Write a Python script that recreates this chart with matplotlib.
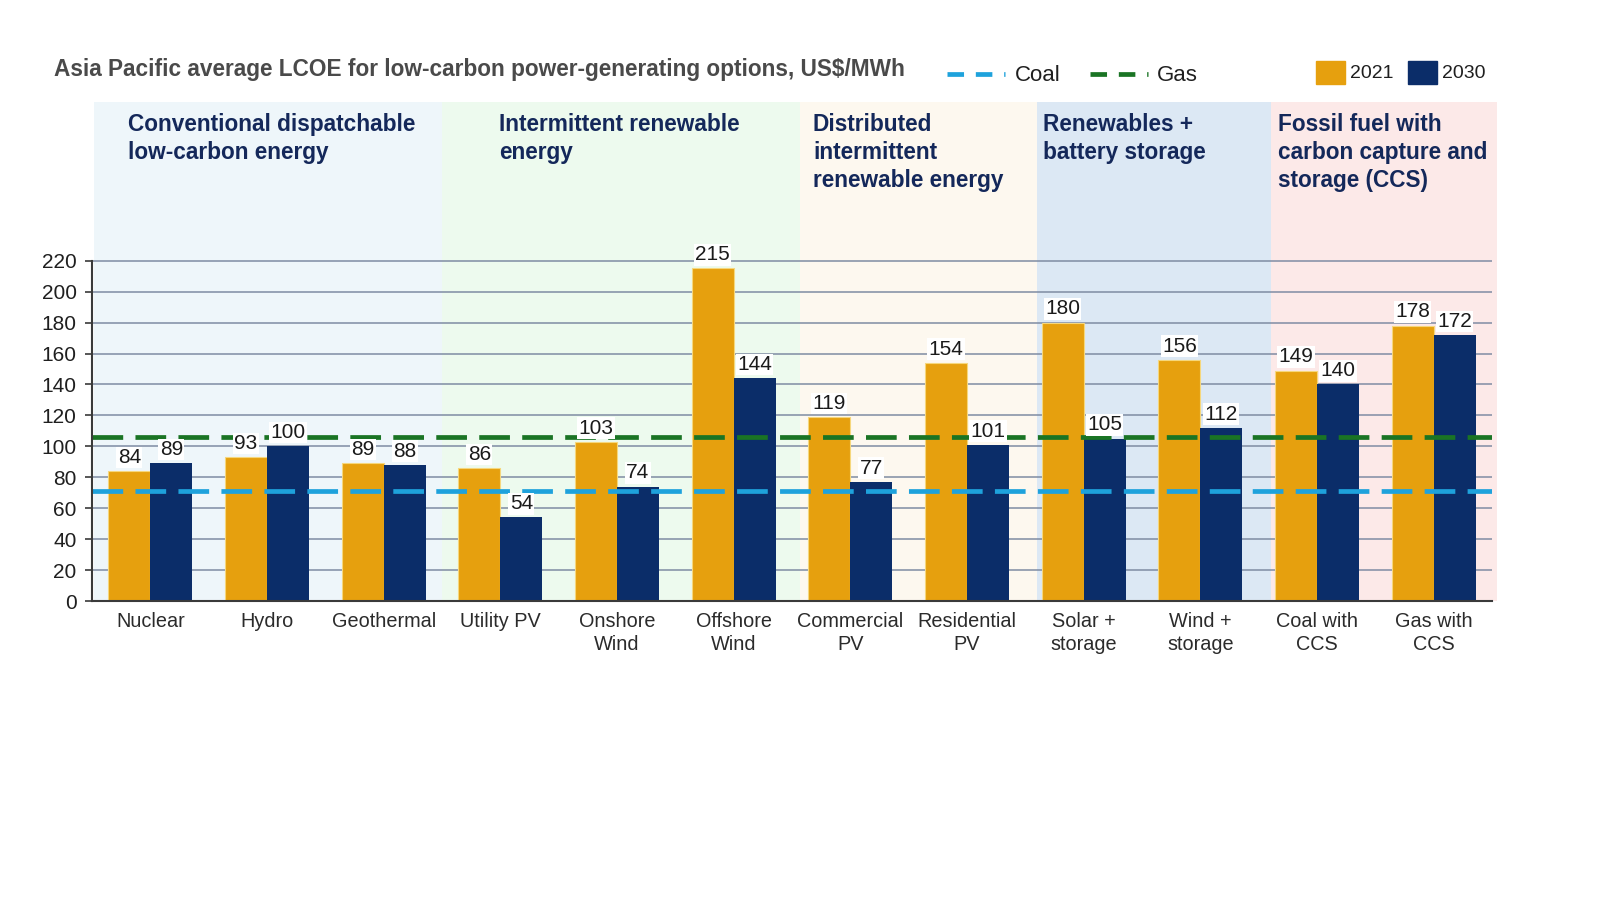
import matplotlib
matplotlib.use("Agg")
import matplotlib.pyplot as plt
from matplotlib.lines import Line2D
from matplotlib.patches import Rectangle
import numpy as np

plt.rcParams['font.family'] = ['Liberation Sans', 'DejaVu Sans']

# data
categories = ['Nuclear', 'Hydro', 'Geothermal', 'Utility PV', 'Onshore\nWind', 'Offshore\nWind',
              'Commercial\nPV', 'Residential\nPV', 'Solar +\nstorage', 'Wind +\nstorage',
              'Coal with\nCCS', 'Gas with\nCCS']
lcoe_2021 = [84, 93, 89, 86, 103, 215, 119, 154, 180, 156, 149, 178]
lcoe_2030 = [89, 100, 88, 54, 74, 144, 77, 101, 105, 112, 140, 172]
coal_lcoe = 71
gas_lcoe = 106
group_names = ['Conventional dispatchable\nlow-carbon energy',
               'Intermittent renewable\nenergy',
               'Distributed\nintermittent\nrenewable energy',
               'Renewables +\nbattery storage',
               'Fossil fuel with\ncarbon capture and\nstorage (CCS)']
group_sizes = [3, 3, 2, 2, 2]
y_ticks = [0, 20, 40, 60, 80, 100, 120, 140, 160, 180, 200, 220]

# styles
gold = '#E6A00E'
navy = '#0B2D69'
band_colors = ['#EEF6FA', '#EDFAEE', '#FDF8EF', '#DCE8F4', '#FCE9E8']
edge_shift = [0.02, 0.0, 0.07, 0.1, 0.11, 0.04]
label_x = [-0.19, 2.99, 5.68, 7.65, 9.67]
text_navy = '#14285A'

fig = plt.figure(figsize=(16, 9), dpi=100)
ax = fig.add_axes([0.0575, 0.3322, 0.875, 0.5545])

x = np.arange(len(categories))
w = 0.36

ax.set_xlim(-0.5, 11.5)
ax.set_ylim(0, 322.6)

# background bands
edges = np.concatenate([[0], np.cumsum(group_sizes)]) - 0.5 + np.array(edge_shift)
for i, name in enumerate(group_names):
    ax.axvspan(edges[i], edges[i + 1], ymin=0, ymax=1, color=band_colors[i],
               zorder=0, lw=0, clip_on=False)
    ax.text(label_x[i], 315.5, name, ha='left', va='top', fontsize=16.3, fontweight='bold',
            color=text_navy, linespacing=1.28, zorder=5)

# gridlines
for t in y_ticks[1:]:
    ax.plot([-0.5, 11.5], [t, t], color='#7F8CA3', lw=1.1, zorder=1)

ax.bar(x - w / 2, lcoe_2021, w, color=gold, edgecolor='#F6D77C', lw=0.8, zorder=2)
ax.bar(x + w / 2, lcoe_2030, w, color=navy, zorder=2)

# reference lines
ax.plot([-0.5, 11.5], [coal_lcoe, coal_lcoe], color='#1EA2DC', lw=3.4, dashes=(6.5, 2.6), zorder=3)
ax.plot([-0.5, 11.5], [gas_lcoe, gas_lcoe], color='#1A7424', lw=3.4, dashes=(6.5, 2.6), zorder=3)

# value labels
for xs, vals in [(x - w / 2, lcoe_2021), (x + w / 2, lcoe_2030)]:
    for xi, v in zip(xs, vals):
        ax.annotate(str(v), (xi, v), xytext=(0, 3), textcoords='offset points', ha='center',
                    va='bottom', fontsize=15, color='#1A1A1A', zorder=6,
                    bbox=dict(boxstyle='square,pad=0.06', fc='white', ec='none'))

# axes styling
for s in ['top', 'right']:
    ax.spines[s].set_visible(False)
ax.spines['left'].set_bounds(0, 220)
ax.spines['left'].set_color('#3A3A3A')
ax.spines['left'].set_linewidth(1.5)
ax.spines['bottom'].set_color('#3A3A3A')
ax.spines['bottom'].set_linewidth(1.5)
ax.spines['left'].set_zorder(4)
ax.spines['bottom'].set_zorder(4)
ax.set_yticks(y_ticks)
ax.tick_params(axis='y', labelsize=15, colors='#3A3A3A', labelcolor='#1F1F1F', length=5,
               width=1.2, pad=6)
ax.set_xticks(x)
ax.set_xticklabels(categories, fontsize=14.3, color='#2B2B2B', linespacing=1.28)
ax.tick_params(axis='x', length=0, pad=8)

# title
fig.text(0.034, 0.923, 'Asia Pacific average LCOE for low-carbon power-generating options, US$/MWh',
         ha='left', va='center', fontsize=16.3, fontweight='bold', color='#4A4A4A')

# legend
fig.add_artist(Line2D([0.592, 0.628], [0.918, 0.918], transform=fig.transFigure, color='#1EA2DC',
                      lw=3.4, dashes=(3.5, 2.5)))
fig.text(0.634, 0.916, 'Coal', ha='left', va='center', fontsize=16, color='#1F1F1F')
fig.add_artist(Line2D([0.681, 0.7175], [0.918, 0.918], transform=fig.transFigure, color='#1A7424',
                      lw=3.4, dashes=(3.5, 2.5)))
fig.text(0.723, 0.916, 'Gas', ha='left', va='center', fontsize=16, color='#1F1F1F')

fig.add_artist(Rectangle((0.8225, 0.9067), 0.018, 0.0256, transform=fig.transFigure, color=gold))
fig.text(0.844, 0.918, '2021', ha='left', va='center', fontsize=14, color='#1F1F1F')
fig.add_artist(Rectangle((0.88, 0.9067), 0.018, 0.0256, transform=fig.transFigure, color=navy))
fig.text(0.901, 0.918, '2030', ha='left', va='center', fontsize=14, color='#1F1F1F')

fig.savefig('out.png', dpi=100, facecolor='white')
